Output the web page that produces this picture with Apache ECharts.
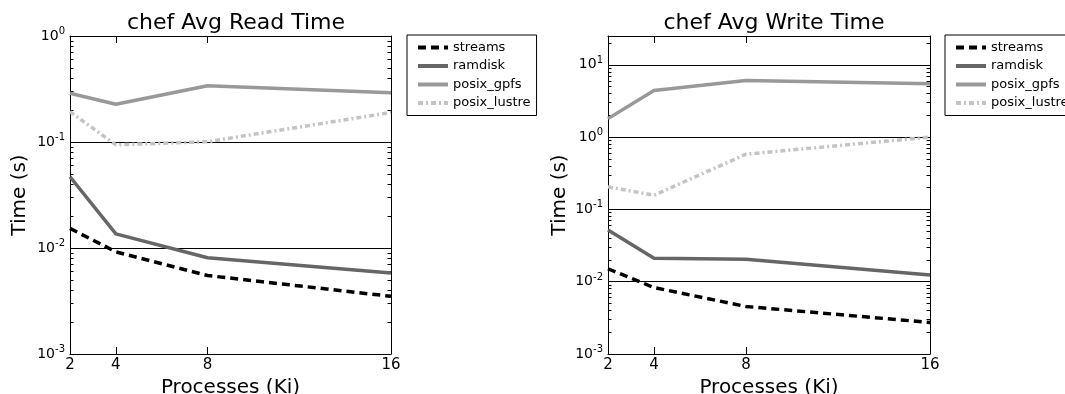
<!DOCTYPE html>
<html>
<head>
<meta charset="utf-8">
<script src="https://cdn.jsdelivr.net/npm/echarts@6/dist/echarts.min.js"></script>
<style>html,body{margin:0;padding:0;background:#fff}#c{width:1065px;height:394px}</style>
</head>
<body>
<div id="c"></div>
<script>
const processes = [2, 4, 8, 16];
const seriesNames = ['streams', 'ramdisk', 'posix_gpfs', 'posix_lustre'];
// chef Avg Read Time (s)
const readStreams = [0.0153, 0.0092, 0.0055, 0.0035];
const readRamdisk = [0.047, 0.0136, 0.0081, 0.0058];
const readGpfs = [0.288, 0.227, 0.34, 0.292];
const readLustre = [0.193, 0.094, 0.1007, 0.19];
// chef Avg Write Time (s)
const writeStreams = [0.0151, 0.0083, 0.00454, 0.00273];
const writeRamdisk = [0.0518, 0.0211, 0.0204, 0.0124];
const writeGpfs = [1.8, 4.42, 6.07, 5.47];
const writeLustre = [0.205, 0.157, 0.58, 1.0];
const xTicks = [2, 4, 8, 16];
const readMajor = [0.001, 0.01, 0.1, 1];
const writeMajor = [0.001, 0.01, 0.1, 1, 10];

const FONT = 'DejaVu Sans';
function minorTicks(lo, hi) {
  const out = [];
  for (let e = lo; e < hi; e++) for (let m = 2; m <= 9; m++) out.push(m * Math.pow(10, e));
  return out;
}
function expLabel(v) {
  const e = Math.round(Math.log10(v));
  return '{b|10}{s|' + e + '}';
}
const styles = [
  {color: '#000000', type: [8, 5], width: 3.5},
  {color: '#666666', type: 'solid', width: 3.5},
  {color: '#999999', type: 'solid', width: 3.5},
  {color: '#c4c4c4', type: [5, 3, 2, 3], width: 3.5}
];

const grids = [
  {left: 70, top: 36, width: 321, height: 318, outerBoundsMode: 'none', containLabel: false},
  {left: 608, top: 36, width: 322, height: 318, outerBoundsMode: 'none', containLabel: false}
];

function makeX(gi, pos) {
  const main = pos === 'bottom';
  return {
    type: 'value', gridIndex: gi, position: pos, min: 2, max: 16,
    name: main ? 'Processes (Ki)' : '', nameLocation: 'middle', nameGap: 21,
    nameTextStyle: {fontFamily: FONT, fontSize: 20, color: '#000'},
    axisLine: {show: true, onZero: false, lineStyle: {color: '#000', width: 1}},
    axisTick: {show: true, inside: true, length: 7, customValues: xTicks, lineStyle: {color: '#000'}},
    axisLabel: {show: main, customValues: xTicks, fontFamily: FONT, fontSize: 15, color: '#000', margin: 4},
    splitLine: {show: false}
  };
}
function makeY(gi, pos, major, minY, maxY, kind, lo, hi, nameGap) {
  const base = {
    type: 'log', logBase: 10, gridIndex: gi, position: pos, min: minY, max: maxY,
    axisLine: {show: kind === 'major', onZero: false, lineStyle: {color: '#000', width: 1}},
    splitLine: {show: false},
    axisLabel: {show: false}
  };
  if (kind === 'major') {
    base.axisTick = {show: true, inside: true, length: 7, customValues: major, lineStyle: {color: '#000'}};
    if (pos === 'left') {
      base.name = 'Time (s)';
      base.nameLocation = 'middle';
      base.nameGap = nameGap;
      base.nameTextStyle = {fontFamily: FONT, fontSize: 20, color: '#000'};
      base.axisLabel = {
        show: true, customValues: major, formatter: expLabel, margin: 5,
        rich: {
          b: {fontFamily: FONT, fontSize: 14, color: '#000'},
          s: {fontFamily: FONT, fontSize: 10, color: '#000', padding: [0, 0, 9, 0]}
        }
      };
      base.splitLine = {show: true, lineStyle: {color: '#000', width: 1}};
    }
  } else {
    base.axisTick = {show: true, inside: true, length: 3.5, customValues: minorTicks(lo, hi), lineStyle: {color: '#000'}};
  }
  return base;
}

const xAxes = [makeX(0, 'bottom'), makeX(0, 'top'), makeX(1, 'bottom'), makeX(1, 'top')];
const yAxes = [
  makeY(0, 'left', readMajor, 0.001, 1, 'major', 0, 0, 40),
  makeY(0, 'right', readMajor, 0.001, 1, 'major'),
  makeY(0, 'left', readMajor, 0.001, 1, 'minor', -3, 0),
  makeY(0, 'right', readMajor, 0.001, 1, 'minor', -3, 0),
  makeY(1, 'left', writeMajor, 0.001, 25, 'major', 0, 0, 38),
  makeY(1, 'right', writeMajor, 0.001, 25, 'major'),
  makeY(1, 'left', writeMajor, 0.001, 25, 'minor', -3, 2),
  makeY(1, 'right', writeMajor, 0.001, 25, 'minor', -3, 2)
];

function mk(name, vals, xi, yi, si) {
  return {
    name: name, type: 'line', xAxisIndex: xi, yAxisIndex: yi,
    data: processes.map((p, i) => [p, vals[i]]),
    showSymbol: false, symbol: 'none', animation: false, clip: true,
    lineStyle: styles[si], itemStyle: {color: styles[si].color}, z: 3
  };
}
const series = [
  mk(seriesNames[0], readStreams, 0, 0, 0),
  mk(seriesNames[1], readRamdisk, 0, 0, 1),
  mk(seriesNames[2], readGpfs, 0, 0, 2),
  mk(seriesNames[3], readLustre, 0, 0, 3),
  mk(seriesNames[0], writeStreams, 2, 4, 0),
  mk(seriesNames[1], writeRamdisk, 2, 4, 1),
  mk(seriesNames[2], writeGpfs, 2, 4, 2),
  mk(seriesNames[3], writeLustre, 2, 4, 3)
];

function legend(left) {
  return {
    orient: 'vertical', left: left, top: 35, data: seriesNames,
    itemWidth: 30, itemHeight: 12, itemGap: 5.5,
    padding: [6, 6, 6, 9], borderColor: '#000', borderWidth: 1,
    itemStyle: {opacity: 0},
    lineStyle: {width: 4},
    textStyle: {fontFamily: FONT, fontSize: 13, color: '#000'},
    selectedMode: false
  };
}

const chart = echarts.init(document.getElementById('c'));
chart.setOption({
  animation: false,
  backgroundColor: '#fff',
  title: [
    {text: 'chef Avg Read Time', left: 231, textAlign: 'center', top: 7,
     textStyle: {fontFamily: FONT, fontSize: 22, fontWeight: 'normal', color: '#000'}},
    {text: 'chef Avg Write Time', left: 769, textAlign: 'center', top: 7,
     textStyle: {fontFamily: FONT, fontSize: 22, fontWeight: 'normal', color: '#000'}}
  ],
  legend: [legend(407), legend(945)],
  grid: grids,
  xAxis: xAxes,
  yAxis: yAxes,
  series: series
});
</script>
</body>
</html>
